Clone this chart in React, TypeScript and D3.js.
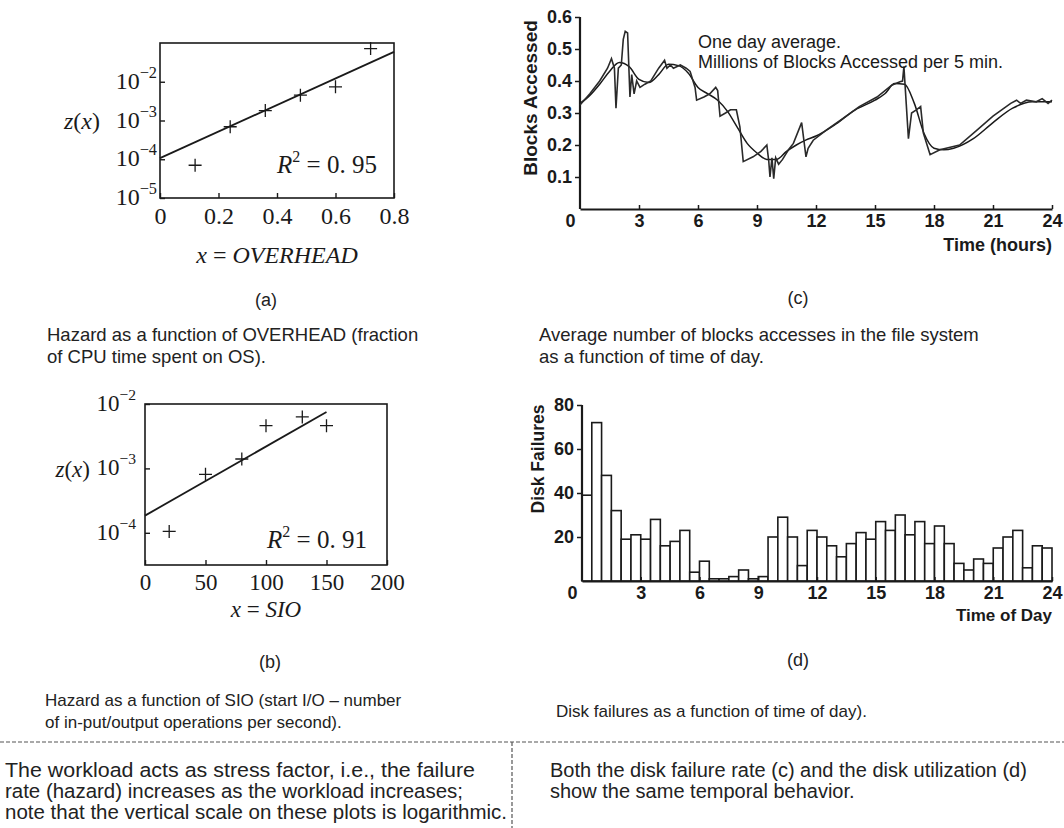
import React, { useEffect, useRef } from "react";
import * as d3 from "d3";

// (a) hazard vs OVERHEAD
const overheadX = [0.12, 0.24, 0.36, 0.48, 0.6, 0.72];
const overheadZ = [7e-5, 6.9e-4, 1.8e-3, 4.5e-3, 7.4e-3, 7.2e-2];
const overheadFitX = [0, 0.8];
const overheadFitZ = [1.07e-4, 5.9e-2];
const overheadTicks = [0, 0.2, 0.4, 0.6, 0.8];
const overheadExps = [-5, -4, -3, -2];

// (b) hazard vs SIO
const sioX = [20, 50, 80, 100, 130, 150];
const sioZ = [1.05e-4, 8.1e-4, 1.4e-3, 4.6e-3, 6.3e-3, 4.6e-3];
const sioFitX = [0, 150];
const sioFitZ = [1.85e-4, 7.5e-3];
const sioTicks = [0, 50, 100, 150, 200];
const sioExps = [-4, -3, -2];

// (c) blocks accessed, 5-min samples and one day average
const rawHours = [0, 0.5, 1.0, 1.4, 1.6, 1.75, 1.83, 1.95, 2.1, 2.2, 2.3, 2.42, 2.54, 2.63, 2.75, 2.88, 3.05, 3.3, 3.6, 4.0, 4.3, 4.42, 4.6, 4.75, 5.1, 5.4, 5.6, 5.85, 5.93, 6.3, 6.6, 6.9, 7.0, 7.12, 7.4, 7.65, 7.95, 8.13, 8.3, 8.8, 9.2, 9.5, 9.6, 9.66, 9.76, 9.85, 9.95, 10.1, 10.3, 10.6, 10.85, 11.27, 11.49, 11.6, 11.86, 12.54, 13.3, 14.2, 15.1, 15.85, 16.27, 16.4, 16.47, 16.7, 16.86, 17.1, 17.32, 17.46, 17.8, 18.3, 19.3, 20.2, 21.0, 21.9, 22.2, 22.4, 22.7, 23.2, 23.5, 23.8, 24];
const rawBlocks = [0.325, 0.36, 0.4, 0.44, 0.47, 0.44, 0.315, 0.44, 0.45, 0.53, 0.555, 0.55, 0.35, 0.42, 0.36, 0.4, 0.38, 0.39, 0.4, 0.44, 0.465, 0.44, 0.45, 0.44, 0.45, 0.44, 0.43, 0.38, 0.34, 0.35, 0.36, 0.38, 0.37, 0.29, 0.3, 0.31, 0.31, 0.257, 0.148, 0.163, 0.18, 0.2, 0.148, 0.1, 0.16, 0.095, 0.16, 0.14, 0.155, 0.185, 0.205, 0.27, 0.163, 0.19, 0.215, 0.247, 0.28, 0.32, 0.35, 0.387, 0.398, 0.4, 0.445, 0.22, 0.3, 0.31, 0.32, 0.237, 0.17, 0.185, 0.2, 0.247, 0.29, 0.33, 0.34, 0.33, 0.34, 0.335, 0.345, 0.33, 0.34];
const avgHours = [0, 0.5, 1, 1.5, 2, 2.5, 3, 3.5, 4, 4.5, 5, 5.5, 6, 6.5, 7, 7.5, 8, 8.5, 9, 9.5, 10, 10.5, 11, 11.5, 12, 13, 14, 15, 15.5, 16, 16.5, 17, 17.5, 18, 18.5, 19, 20, 21, 22, 23, 24];
const avgBlocks = [0.33, 0.355, 0.39, 0.43, 0.458, 0.445, 0.405, 0.395, 0.42, 0.452, 0.448, 0.425, 0.38, 0.36, 0.34, 0.305, 0.255, 0.205, 0.175, 0.155, 0.155, 0.18, 0.2, 0.216, 0.228, 0.265, 0.31, 0.34, 0.36, 0.392, 0.39, 0.33, 0.235, 0.19, 0.185, 0.19, 0.22, 0.27, 0.315, 0.335, 0.335];
const hourTicks = [0, 3, 6, 9, 12, 15, 18, 21, 24];
const blockTicks = [0.1, 0.2, 0.3, 0.4, 0.5, 0.6];

// (d) disk failures per half hour
const binHours = 0.5;
const failureCounts = [39, 72, 48, 32, 19, 21, 19, 28, 16, 18, 23, 4, 9, 1, 1, 2, 5, 1, 2, 20, 29, 20, 7, 23, 20, 16, 11, 17, 22, 19, 27, 23, 30, 21, 27, 17, 25, 17, 8, 5, 10, 8, 15, 20, 23, 6, 16, 15];
const failureTicks = [20, 40, 60, 80];

const captionA = ["Hazard as a function of OVERHEAD (fraction", "of CPU time spent on OS)."];
const captionB = ["Hazard as a function of SIO (start I/O \u2013 number", "of in-put/output operations per second)."];
const captionC = ["Average number of blocks accesses in the file system", "as a function of time of day."];
const captionD = ["Disk failures as a function of time of day)."];
const noteLeft = ["The workload acts as stress factor, i.e., the failure", "rate (hazard) increases as the workload increases;", "note that the vertical scale on these plots is logarithmic."];
const noteLeftWidths = [470, 458, 502];
const noteRight = ["Both the disk failure rate (c) and the disk utilization (d)", "show the same temporal behavior."];

const serif = "'Liberation Serif', 'DejaVu Serif', serif";
const sans = "'Liberation Sans', Arial, sans-serif";
const ink = "#1a1a1a";

function plus(g, x, y) {
  g.append("path").attr("d", `M${x - 6.5},${y}H${x + 6.5}M${x},${y - 6.5}V${y + 6.5}`)
    .attr("stroke", ink).attr("stroke-width", 1.3);
}

function hazardPanel(svg, o) {
  const g = svg.append("g");
  const x = d3.scaleLinear().domain(o.xDomain).range(o.xRange);
  const y = d3.scaleLog().domain(o.yDomain).range(o.yRange);
  const fs = o.fontSize;

  g.append("g").attr("transform", `translate(0,${o.yRange[0]})`)
    .call(d3.axisBottom(x).tickValues(o.xTicks).tickSize(-5).tickSizeOuter(0).tickPadding(o.tickPad).tickFormat(d3.format("")))
    .call((a) => a.select(".domain").remove())
    .call((a) => a.selectAll("line").attr("stroke", ink).attr("stroke-width", 1.4))
    .call((a) => a.selectAll("text").attr("font-family", serif).attr("font-size", fs).attr("fill", ink).attr("dy", "0.75em"));

  g.append("g").attr("transform", `translate(${o.xRange[0]},0)`)
    .call(d3.axisLeft(y).tickValues(o.exps.map((e) => Math.pow(10, e))).tickSize(-5).tickSizeOuter(0).tickFormat(() => ""))
    .call((a) => a.select(".domain").remove())
    .call((a) => a.selectAll("line").attr("stroke", ink).attr("stroke-width", 1.4));

  o.exps.forEach((e) => {
    const t = g.append("text").attr("x", o.labelEnd).attr("y", y(Math.pow(10, e)) + 7)
      .attr("text-anchor", "end").attr("font-family", serif).attr("font-size", fs).attr("fill", ink);
    t.append("tspan").text("10");
    t.append("tspan").attr("dy", -11).attr("font-size", fs * 0.68).text(`\u2212${-e}`);
  });

  g.append("rect").attr("x", o.xRange[0]).attr("y", o.yRange[1])
    .attr("width", o.xRange[1] - o.xRange[0]).attr("height", o.yRange[0] - o.yRange[1])
    .attr("fill", "none").attr("stroke", ink).attr("stroke-width", 1.6);

  g.append("path").datum(o.fitX.map((v, i) => [v, o.fitZ[i]]))
    .attr("d", d3.line().x((d) => x(d[0])).y((d) => y(d[1])))
    .attr("fill", "none").attr("stroke", ink).attr("stroke-width", 1.8);

  o.px.forEach((v, i) => plus(g, x(v), y(o.pz[i])));

  const r = g.append("text").attr("x", o.r2x).attr("y", o.r2y).attr("font-family", serif).attr("font-size", 25).attr("fill", ink);
  r.append("tspan").attr("font-style", "italic").text("R");
  r.append("tspan").attr("dy", -11).attr("font-size", 16).text("2");
  r.append("tspan").attr("dy", 11).text(` = ${o.r2}`);

  const zl = g.append("text").attr("x", o.zx).attr("y", o.zy).attr("text-anchor", "end")
    .attr("font-family", serif).attr("font-size", fs).attr("fill", ink);
  zl.append("tspan").attr("font-style", "italic").text("z");
  zl.append("tspan").text("(");
  zl.append("tspan").attr("font-style", "italic").text("x");
  zl.append("tspan").text(")");

  const xl = g.append("text").attr("x", (o.xRange[0] + o.xRange[1]) / 2).attr("y", o.xLabelY).attr("text-anchor", "middle")
    .attr("font-family", serif).attr("font-size", fs).attr("fill", ink);
  xl.append("tspan").attr("font-style", "italic").text("x");
  xl.append("tspan").text(" = ");
  xl.append("tspan").attr("font-style", "italic").text(o.xName);
}

function timeAxes(g, x, y, yTicks, yFmt) {
  const [y0, y1] = y.range();
  g.append("g").attr("transform", `translate(0,${y0})`)
    .call(d3.axisBottom(x).tickValues(hourTicks).tickSize(-4).tickSizeOuter(0).tickPadding(4))
    .call((a) => a.select(".domain").attr("stroke", ink).attr("stroke-width", 2.2))
    .call((a) => a.selectAll("line").attr("stroke", ink).attr("stroke-width", 1.5))
    .call((a) => a.selectAll("text").attr("font-family", sans).attr("font-weight", "bold").attr("font-size", 18).attr("fill", ink)
      .attr("dx", (d) => (d === 0 ? -10 : 0)).attr("dy", "0.75em"))
    .call((a) => a.selectAll(".tick").filter((d) => d === 0).select("line").remove());

  g.append("g").attr("transform", `translate(${x(0)},0)`)
    .call(d3.axisLeft(y).tickValues(yTicks).tickSize(5).tickSizeOuter(0).tickPadding(3).tickFormat(yFmt))
    .call((a) => a.select(".domain").attr("d", `M0,${y0}V${y1}`).attr("stroke", ink).attr("stroke-width", 2.2))
    .call((a) => a.selectAll("line").attr("stroke", ink).attr("stroke-width", 1.5))
    .call((a) => a.selectAll("text").attr("font-family", sans).attr("font-weight", "bold").attr("font-size", 18).attr("fill", ink));
}

function blocksPanel(svg) {
  const g = svg.append("g");
  const x = d3.scaleLinear().domain([0, 24]).range([580, 1052]);
  const y = d3.scaleLinear().domain([0, 0.6]).range([209, 17]);
  timeAxes(g, x, y, blockTicks, d3.format(".1f"));

  g.append("path").datum(avgHours.map((h, i) => [h, avgBlocks[i]]))
    .attr("d", d3.line().curve(d3.curveMonotoneX).x((d) => x(d[0])).y((d) => y(d[1])))
    .attr("fill", "none").attr("stroke", ink).attr("stroke-width", 1.5);
  g.append("path").datum(rawHours.map((h, i) => [h, rawBlocks[i]]))
    .attr("d", d3.line().x((d) => x(d[0])).y((d) => y(d[1])))
    .attr("fill", "none").attr("stroke", "#2a2a2a").attr("stroke-width", 1.6);

  g.append("text").attr("transform", "translate(537,98) rotate(-90)").attr("text-anchor", "middle")
    .attr("font-family", sans).attr("font-weight", "bold").attr("font-size", 19).attr("fill", ink).text("Blocks Accessed");
  g.append("text").attr("x", 698).attr("y", 48).attr("font-family", sans).attr("font-size", 18).attr("fill", ink).text("One day average.");
  g.append("text").attr("x", 698).attr("y", 68).attr("font-family", sans).attr("font-size", 18).attr("fill", ink).text("Millions of Blocks Accessed per 5 min.");
  g.append("text").attr("x", 1052).attr("y", 251).attr("text-anchor", "end")
    .attr("font-family", sans).attr("font-weight", "bold").attr("font-size", 18).attr("fill", ink).text("Time (hours)");
}

function failuresPanel(svg) {
  const g = svg.append("g");
  const x = d3.scaleLinear().domain([0, 24]).range([582, 1052]);
  const y = d3.scaleLinear().domain([0, 80]).range([581, 405]);

  g.selectAll("rect.bar").data(failureCounts).join("rect").attr("class", "bar")
    .attr("x", (d, i) => x(i * binHours)).attr("width", x(binHours) - x(0))
    .attr("y", (d) => y(d)).attr("height", (d) => y(0) - y(d))
    .attr("fill", "#fff").attr("stroke", ink).attr("stroke-width", 1.6);

  timeAxes(g, x, y, failureTicks, d3.format("d"));

  g.append("text").attr("transform", "translate(544,459) rotate(-90)").attr("text-anchor", "middle")
    .attr("font-family", sans).attr("font-weight", "bold").attr("font-size", 17.5).attr("fill", ink).text("Disk Failures");
  g.append("text").attr("x", 1052).attr("y", 621).attr("text-anchor", "end")
    .attr("font-family", sans).attr("font-weight", "bold").attr("font-size", 17).attr("fill", ink).text("Time of Day");
}

function lines(svg, rows, x, y, size, step, widths?) {
  rows.forEach((r, i) => {
    const t = svg.append("text").attr("x", x).attr("y", y + i * step)
      .attr("font-family", sans).attr("font-size", size).attr("fill", "#222").text(r);
    if (widths) t.attr("textLength", widths[i]).attr("lengthAdjust", "spacingAndGlyphs");
  });
}

export default function App() {
  const ref = useRef<SVGSVGElement>(null);

  useEffect(() => {
    const svg = d3.select(ref.current);
    svg.selectAll("*").remove();

    hazardPanel(svg, {
      xDomain: [0, 0.8], xRange: [160, 394], yDomain: [1e-5, 1e-1], yRange: [198, 43],
      xTicks: overheadTicks, exps: overheadExps, labelEnd: 157, fontSize: 24, tickPad: 8,
      px: overheadX, pz: overheadZ, fitX: overheadFitX, fitZ: overheadFitZ,
      r2: "0. 95", r2x: 277, r2y: 173, zx: 100, zy: 129, xLabelY: 263, xName: "OVERHEAD",
    });
    hazardPanel(svg, {
      xDomain: [0, 200], xRange: [145, 387], yDomain: [Math.pow(10, -4.5), 1e-2], yRange: [565, 404],
      xTicks: sioTicks, exps: sioExps, labelEnd: 136, fontSize: 23, tickPad: 8,
      px: sioX, pz: sioZ, fitX: sioFitX, fitZ: sioFitZ,
      r2: "0. 91", r2x: 267, r2y: 548, zx: 90, zy: 477, xLabelY: 617, xName: "SIO",
    });
    blocksPanel(svg);
    failuresPanel(svg);

    const tag = (t, x, y) => svg.append("text").attr("x", x).attr("y", y).attr("text-anchor", "middle")
      .attr("font-family", sans).attr("font-size", 18).attr("fill", "#222").text(t);
    tag("(a)", 266, 306);
    tag("(b)", 270, 668);
    tag("(c)", 798, 304);
    tag("(d)", 798, 666);

    lines(svg, captionA, 47, 341, 18.5, 22);
    lines(svg, captionB, 45, 706, 17, 22);
    lines(svg, captionC, 539, 341, 18.5, 22);
    lines(svg, captionD, 556, 717, 17, 22);
    lines(svg, noteLeft, 5, 777, 20.5, 21, noteLeftWidths);
    lines(svg, noteRight, 550, 777, 20, 21);

    svg.append("line").attr("x1", 0).attr("x2", 1064).attr("y1", 742).attr("y2", 742)
      .attr("stroke", "#555").attr("stroke-width", 1.2).attr("stroke-dasharray", "4 2");
    svg.append("line").attr("x1", 512).attr("x2", 512).attr("y1", 742).attr("y2", 828)
      .attr("stroke", "#555").attr("stroke-width", 1.2).attr("stroke-dasharray", "4 2");
  }, []);

  return (
    <svg ref={ref} width={1064} height={828} style={{ position: "absolute", left: 0, top: 0, background: "#fff" }} />
  );
}
